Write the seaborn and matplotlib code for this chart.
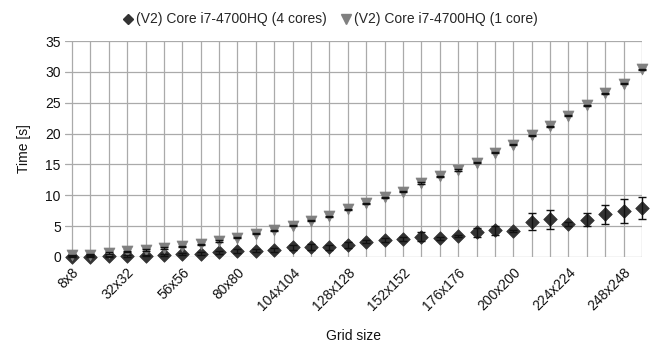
import matplotlib
matplotlib.use("Agg")
import matplotlib.pyplot as plt
from matplotlib.lines import Line2D
import numpy as np
import pandas as pd
import seaborn as sns

# Grid sizes (n x n) and measured run times in seconds
grid_n = list(range(8, 257, 8))
grid_labels = [f"{n}x{n}" for n in grid_n]

time_4cores = [0.05, 0.05, 0.1, 0.15, 0.2, 0.35, 0.45, 0.55, 0.75, 0.95, 1.0, 1.15,
               1.55, 1.6, 1.55, 2.0, 2.5, 2.7, 2.9, 3.3, 3.0, 3.4, 4.0, 4.3,
               4.2, 5.7, 6.1, 5.4, 6.0, 6.9, 7.4, 7.9]
err_4cores = [0.05, 0.05, 0.05, 0.1, 0.1, 0.15, 0.2, 0.2, 0.25, 0.3, 0.25, 0.3,
              0.45, 0.45, 0.35, 0.5, 0.3, 0.35, 0.3, 0.7, 0.2, 0.2, 0.7, 0.75,
              0.2, 1.4, 1.5, 0.35, 1.05, 1.6, 1.95, 1.8]

time_1core = [0.3, 0.4, 0.65, 0.9, 1.15, 1.45, 1.75, 2.05, 2.6, 3.1, 3.75, 4.35,
              5.1, 5.9, 6.6, 7.7, 8.7, 9.7, 10.6, 12.0, 13.1, 14.1, 15.3, 16.9,
              18.2, 19.7, 21.2, 22.9, 24.6, 26.5, 28.1, 30.4]
err_1core = [0.1] * len(grid_n)

series_names = ["(V2) Core i7-4700HQ (4 cores)", "(V2) Core i7-4700HQ (1 core)"]

idx = np.arange(len(grid_n))
df = pd.DataFrame({
    "idx": np.concatenate([idx, idx]),
    "time": time_4cores + time_1core,
    "err": err_4cores + err_1core,
    "series": [series_names[0]] * len(idx) + [series_names[1]] * len(idx),
})

sns.set_theme(style="white")
plt.rcParams["font.family"] = ["Liberation Sans", "DejaVu Sans"]

fig = plt.figure(figsize=(6.59, 3.5), dpi=100)
ax = fig.add_axes([65 / 659, 1 - 257 / 350, (642 - 65) / 659, (257 - 41) / 350])

colors = {series_names[0]: "#333333", series_names[1]: "#808080"}
markers = {series_names[0]: "D", series_names[1]: "v"}
sizes = {series_names[0]: 48, series_names[1]: 62}

for name in series_names:
    sub = df[df["series"] == name]
    sns.scatterplot(data=sub, x="idx", y="time", marker=markers[name],
                    color=colors[name], s=sizes[name], edgecolor=colors[name],
                    linewidth=0.5, ax=ax, zorder=3, clip_on=False, legend=False)
    ax.errorbar(sub["idx"], sub["time"], yerr=sub["err"], fmt="none",
                ecolor="#111111", elinewidth=1.0, capsize=3.2, capthick=1.0,
                zorder=4, clip_on=False)

ax.set_xlim(-0.38, len(grid_n) - 1)
ax.set_ylim(0, 35)
ax.set_yticks(range(0, 36, 5))
ax.set_xticks(idx)
ax.set_xticklabels([lab if i % 3 == 0 else "" for i, lab in enumerate(grid_labels)],
                   rotation=45, ha="right", rotation_mode="anchor", fontsize=10)
ax.tick_params(axis="x", length=3, width=0.9, color="#aaaaaa", pad=3, direction="out",
               labelcolor="#111111")
ax.tick_params(axis="y", length=0, pad=3, labelsize=10, labelcolor="#111111")
ax.grid(True, color="#aaaaaa", linewidth=0.9)
ax.set_axisbelow(True)
for s in ax.spines.values():
    s.set_visible(False)

ax.set_xlabel("Grid size", fontsize=10, labelpad=11, color="#111111")
ax.set_ylabel("Time [s]", fontsize=10, labelpad=10, color="#111111")

handles = [
    Line2D([], [], marker="D", linestyle="none", color=colors[series_names[0]], markersize=5),
    Line2D([], [], marker="v", linestyle="none", color=colors[series_names[1]], markersize=6.5),
]
fig.legend(handles, series_names, loc="upper center", bbox_to_anchor=(0.5, 1.0),
           ncol=2, frameon=False, fontsize=10, handletextpad=0.05, columnspacing=0.9,
           handlelength=1.0)

fig.savefig("out.png", dpi=100)
